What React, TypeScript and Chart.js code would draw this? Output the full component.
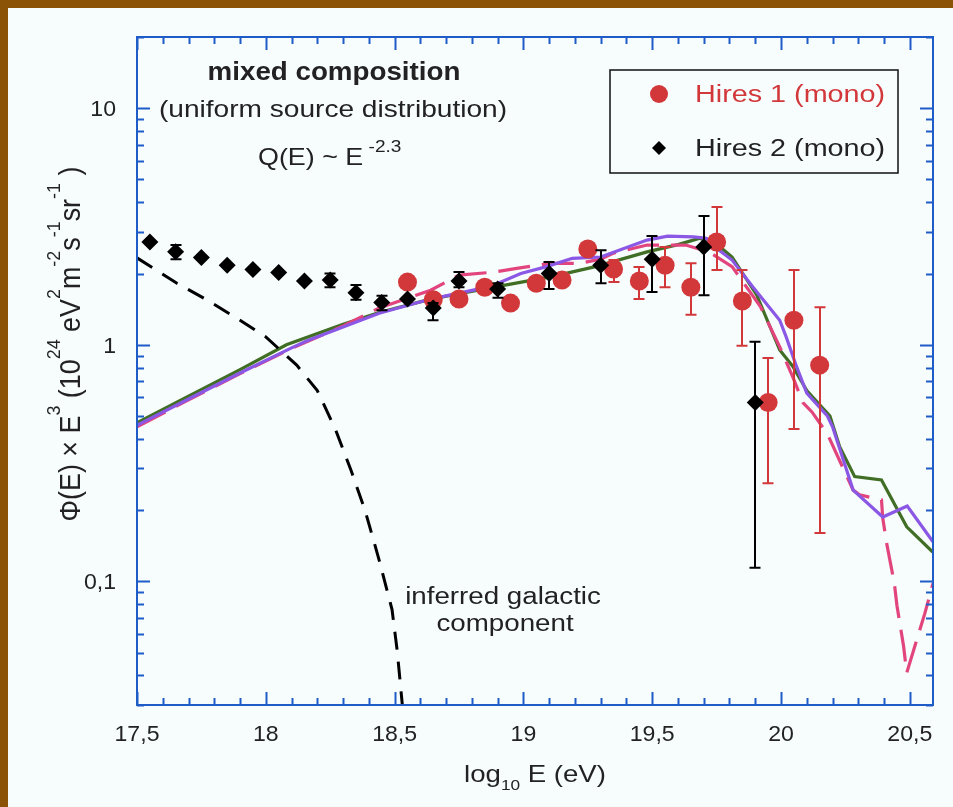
import React, { useEffect, useRef } from "react";
import { Chart, registerables } from "chart.js";

Chart.register(...registerables);

// ---------------- data ----------------
const xMajorTicks = [17.5, 18, 18.5, 19, 19.5, 20, 20.5];
const xTickLabels = ["17,5", "18", "18,5", "19", "19,5", "20", "20,5"];
const yMajorTicks = [0.1, 1, 10];
const yTickLabels = ["0,1", "1", "10"];

// Hires 1 (mono) - red circles
const hires1X = [18.55, 18.65, 18.75, 18.85, 18.95, 19.05, 19.15, 19.25, 19.35, 19.45, 19.55, 19.65, 19.75, 19.85, 19.95, 20.05, 20.15];
const hires1Y = [1.84, 1.55, 1.56, 1.75, 1.5, 1.82, 1.88, 2.54, 2.09, 1.86, 2.17, 1.75, 2.72, 1.53, 0.57, 1.27, 0.82];
const hires1Lo = [null, null, null, null, null, null, null, null, 1.84, 1.56, 1.75, 1.34, 2.07, 0.99, 0.26, 0.44, 0.16];
const hires1Hi = [null, null, null, null, null, null, null, null, 2.28, 2.13, 2.59, 2.21, 3.82, 2.07, 0.88, 2.07, 1.44];

// Hires 2 (mono) - black diamonds
const hires2X = [17.55, 17.65, 17.75, 17.85, 17.95, 18.05, 18.15, 18.25, 18.35, 18.45, 18.55, 18.65, 18.75, 18.9, 19.1, 19.3, 19.5, 19.7, 19.9];
const hires2Y = [2.72, 2.47, 2.34, 2.17, 2.08, 2.02, 1.86, 1.88, 1.66, 1.51, 1.56, 1.43, 1.86, 1.72, 2.0, 2.17, 2.3, 2.59, 0.57];
const hires2Lo = [null, 2.3, null, null, null, null, null, 1.75, 1.55, 1.4, null, 1.27, 1.75, 1.58, 1.72, 1.82, 1.67, 1.62, 0.114];
const hires2Hi = [null, 2.64, null, null, null, null, null, 2.0, 1.79, 1.61, null, 1.5, 2.03, 1.82, 2.24, 2.51, 2.88, 3.5, 1.03];

// inferred galactic component (black dashed)
const galacticX = [17.5, 17.655, 17.77, 17.9, 18.0, 18.12, 18.2, 18.27, 18.33, 18.385, 18.44, 18.49, 18.51, 18.53];
const galacticY = [2.33, 1.82, 1.55, 1.27, 1.08, 0.82, 0.64, 0.44, 0.296, 0.2, 0.123, 0.076, 0.051, 0.03];

// model curves
const greenX = [17.5, 17.7, 17.9, 18.08, 18.3, 18.44, 18.64, 18.87, 19.11, 19.28, 19.48, 19.6, 19.685, 19.762, 19.81, 19.906, 19.995, 20.046, 20.1, 20.19, 20.228, 20.286, 20.39, 20.488, 20.589];
const greenY = [0.468, 0.607, 0.785, 1.0, 1.22, 1.37, 1.56, 1.74, 1.94, 2.14, 2.47, 2.65, 2.82, 2.6, 2.35, 1.62, 0.95, 0.81, 0.64, 0.5, 0.37, 0.277, 0.268, 0.17, 0.133];

const purpleX = [17.5, 17.7, 17.9, 18.1, 18.16, 18.3, 18.44, 18.64, 18.87, 18.99, 19.09, 19.19, 19.3, 19.48, 19.56, 19.66, 19.71, 19.76, 19.81, 19.89, 19.995, 20.02, 20.06, 20.1, 20.18, 20.2, 20.28, 20.395, 20.49, 20.59];
const purpleY = [0.457, 0.59, 0.76, 0.97, 1.04, 1.19, 1.36, 1.56, 1.76, 2.0, 2.14, 2.32, 2.35, 2.77, 2.88, 2.86, 2.82, 2.51, 2.28, 1.76, 1.27, 1.08, 0.81, 0.625, 0.5, 0.45, 0.243, 0.187, 0.208, 0.147];

const pinkX = [17.5, 17.7, 17.9, 18.1, 18.3, 18.44, 18.64, 18.75, 18.89, 18.98, 19.11, 19.22, 19.3, 19.35, 19.48, 19.63, 19.72, 19.81, 19.92, 19.995, 20.046, 20.085, 20.12, 20.18, 20.28, 20.305, 20.39, 20.395, 20.41, 20.44, 20.45, 20.476, 20.488, 20.53, 20.558, 20.59];
const pinkY = [0.45, 0.585, 0.755, 0.965, 1.2, 1.43, 1.7, 1.97, 2.03, 2.11, 2.21, 2.21, 2.3, 2.44, 2.64, 2.64, 2.47, 2.14, 1.45, 0.98, 0.73, 0.57, 0.52, 0.42, 0.243, 0.232, 0.221, 0.185, 0.145, 0.098, 0.079, 0.053, 0.041, 0.058, 0.073, 0.098];

// ---------------- styles ----------------
const FONT = '"Liberation Sans", Arial, Helvetica, sans-serif';
const BLUE = "#1f5cc8";
const BROWN = "#8a5306";
const BG = "#f7fcfd";
const RED = "#d2373a";
const TEXT = "#222222";

const zip = (xs: number[], ys: number[]) => xs.map((x, i) => ({ x, y: ys[i] }));

type Run = { t: string; sup?: boolean; sub?: boolean };

function drawRuns(
  ctx: CanvasRenderingContext2D,
  runs: Run[],
  x: number,
  y: number,
  o: {
    size: number;
    small?: number;
    bold?: boolean;
    color?: string;
    align?: "left" | "center" | "right";
    sx?: number;
    sy?: number;
    rotate?: number;
    supShift?: number;
    subShift?: number;
  }
) {
  ctx.save();
  ctx.translate(x, y);
  if (o.rotate) ctx.rotate(o.rotate);
  ctx.scale(o.sx ?? 1, o.sy ?? 1);
  ctx.fillStyle = o.color ?? TEXT;
  ctx.textBaseline = "alphabetic";
  ctx.textAlign = "left";
  const small = o.small ?? Math.round(o.size * 0.66);
  const fontFor = (r: Run) => `${o.bold ? "bold " : ""}${r.sup || r.sub ? small : o.size}px ${FONT}`;
  let total = 0;
  const widths = runs.map((r) => {
    ctx.font = fontFor(r);
    const w = ctx.measureText(r.t).width;
    total += w;
    return w;
  });
  let cx = o.align === "center" ? -total / 2 : o.align === "right" ? -total : 0;
  runs.forEach((r, i) => {
    ctx.font = fontFor(r);
    const dy = r.sup ? -(o.supShift ?? o.size * 0.45) : r.sub ? o.subShift ?? o.size * 0.3 : 0;
    ctx.fillText(r.t, cx, dy);
    cx += widths[i];
  });
  ctx.restore();
}

const decorPlugin = {
  id: "decor",
  beforeDraw(chart: any) {
    const { ctx, width, height } = chart;
    ctx.save();
    ctx.fillStyle = BROWN;
    ctx.fillRect(0, 0, width, height);
    ctx.fillStyle = BG;
    ctx.fillRect(8, 8, width - 8, height - 8);
    ctx.restore();
  },
  afterDatasetDraw(chart: any, args: any) {
    const ds = chart.data.datasets[args.index];
    const eb = ds.errorBars;
    if (!eb) return;
    const { ctx } = chart;
    const xs = chart.scales.x;
    const ys = chart.scales.y;
    ctx.save();
    ctx.strokeStyle = eb.color;
    ctx.lineWidth = 2;
    ds.data.forEach((p: any, i: number) => {
      const lo = eb.lo[i];
      const hi = eb.hi[i];
      if (lo == null || hi == null) return;
      const px = Math.round(xs.getPixelForValue(p.x));
      const y1 = ys.getPixelForValue(lo);
      const y2 = ys.getPixelForValue(hi);
      const c = 5.5;
      ctx.beginPath();
      ctx.moveTo(px, y1);
      ctx.lineTo(px, y2);
      ctx.moveTo(px - c, y1);
      ctx.lineTo(px + c, y1);
      ctx.moveTo(px - c, y2);
      ctx.lineTo(px + c, y2);
      ctx.stroke();
    });
    ctx.restore();
  },
  afterDraw(chart: any) {
    const { ctx, chartArea } = chart;
    const { left, right, top, bottom } = chartArea;
    const xs = chart.scales.x;
    const ys = chart.scales.y;

    // frame
    ctx.save();
    ctx.strokeStyle = BLUE;
    ctx.lineWidth = 2;
    ctx.strokeRect(left, top, right - left, bottom - top);

    // x ticks (inward, top & bottom)
    ctx.beginPath();
    for (let k = 175; k <= 205; k++) {
      const v = k / 10;
      const px = Math.round(xs.getPixelForValue(v)) + 0.5;
      const len = k % 5 === 0 ? 13 : 7;
      ctx.moveTo(px, bottom);
      ctx.lineTo(px, bottom - len);
      ctx.moveTo(px, top);
      ctx.lineTo(px, top + len);
    }
    // y ticks (inward, left & right)
    for (let d = -2; d <= 1; d++) {
      for (let m = 1; m <= 9; m++) {
        const v = m * Math.pow(10, d);
        if (v < ys.min || v > ys.max) continue;
        const py = Math.round(ys.getPixelForValue(v)) + 0.5;
        const len = m === 1 ? 13 : 7;
        ctx.moveTo(left, py);
        ctx.lineTo(left + len, py);
        ctx.moveTo(right, py);
        ctx.lineTo(right - len, py);
      }
    }
    ctx.stroke();
    ctx.restore();

    // tick labels
    xMajorTicks.forEach((v, i) => {
      drawRuns(ctx, [{ t: xTickLabels[i] }], xs.getPixelForValue(v), 741, { size: 22, align: "center", sx: 1.05 });
    });
    yMajorTicks.forEach((v, i) => {
      drawRuns(ctx, [{ t: yTickLabels[i] }], 116, ys.getPixelForValue(v) + 8, { size: 22, align: "right", sx: 1.05 });
    });

    // axis titles
    drawRuns(ctx, [{ t: "log" }, { t: "10", sub: true }, { t: " E (eV)" }], 535, 782, {
      size: 24,
      small: 15,
      align: "center",
      sx: 1.15,
      subShift: 8,
    });
    drawRuns(
      ctx,
      [
        { t: "Φ(E) × E" },
        { t: "3", sup: true },
        { t: " (10" },
        { t: "24", sup: true },
        { t: " eV" },
        { t: "2", sup: true },
        { t: "m" },
        { t: "-2", sup: true },
        { t: "s" },
        { t: "-1", sup: true },
        { t: "sr" },
        { t: "-1", sup: true },
        { t: " )" },
      ],
      80,
      344,
      { size: 24, small: 16, align: "center", sx: 1.12, sy: 1.2, rotate: -Math.PI / 2, supShift: 17 }
    );

    // annotations
    drawRuns(ctx, [{ t: "mixed composition" }], 334, 80, { size: 25, bold: true, align: "center", sx: 1.11 });
    drawRuns(ctx, [{ t: "(uniform source distribution)" }], 333, 117, { size: 24, align: "center", sx: 1.17 });
    drawRuns(ctx, [{ t: "Q(E) ~ E" }, { t: " -2.3", sup: true }], 258, 165, { size: 24, small: 17, align: "left", sx: 1.12, supShift: 13 });
    drawRuns(ctx, [{ t: "inferred galactic" }], 503, 604, { size: 23.5, align: "center", sx: 1.18 });
    drawRuns(ctx, [{ t: "component" }], 505, 631, { size: 23.5, align: "center", sx: 1.18 });

    // legend
    ctx.save();
    ctx.strokeStyle = "#111";
    ctx.lineWidth = 1.5;
    ctx.strokeRect(610, 70, 288, 103);
    ctx.fillStyle = RED;
    ctx.beginPath();
    ctx.arc(659, 94, 9, 0, Math.PI * 2);
    ctx.fill();
    ctx.fillStyle = "#000";
    ctx.beginPath();
    ctx.moveTo(659 - 7, 148);
    ctx.lineTo(659, 148 - 7);
    ctx.lineTo(659 + 7, 148);
    ctx.lineTo(659, 148 + 7);
    ctx.closePath();
    ctx.fill();
    ctx.restore();
    drawRuns(ctx, [{ t: "Hires 1 (mono)" }], 695, 102, { size: 23, align: "left", sx: 1.25, color: RED });
    drawRuns(ctx, [{ t: "Hires 2 (mono)" }], 695, 156, { size: 23, align: "left", sx: 1.25, color: TEXT });
  },
};

export default function App() {
  const ref = useRef<HTMLCanvasElement>(null);
  useEffect(() => {
    document.body.style.margin = "0";
    const lineDs = (label: string, xs: number[], ys: number[], color: string, dash: number[] = [], width = 3.2) => ({
      label,
      data: zip(xs, ys),
      showLine: true,
      borderColor: color,
      backgroundColor: color,
      borderWidth: width,
      borderDash: dash,
      pointRadius: 0,
      tension: 0,
      fill: false,
    });
    const chart = new Chart(ref.current as HTMLCanvasElement, {
      type: "scatter",
      data: {
        datasets: [
          {
            label: "Hires 2 (mono)",
            data: zip(hires2X, hires2Y),
            pointStyle: "rectRot",
            pointRadius: 8.5,
            backgroundColor: "#000",
            borderColor: "#000",
            borderWidth: 0,
            errorBars: { lo: hires2Lo, hi: hires2Hi, color: "#000" },
          } as any,
          {
            label: "Hires 1 (mono)",
            data: zip(hires1X, hires1Y),
            pointStyle: "circle",
            pointRadius: 9.5,
            backgroundColor: RED,
            borderColor: RED,
            borderWidth: 0,
            errorBars: { lo: hires1Lo, hi: hires1Hi, color: RED },
          } as any,
          lineDs("inferred galactic component", galacticX, galacticY, "#000", [18, 12], 3),
          lineDs("model (purple)", purpleX, purpleY, "#8a58e4"),
          lineDs("model (pink)", pinkX, pinkY, "#e2457e", [32, 12]),
          lineDs("model (green)", greenX, greenY, "#3f6e24"),
        ],
      },
      options: {
        responsive: false,
        animation: false,
        devicePixelRatio: 1,
        events: [],
        layout: { padding: { left: 137, right: 20, top: 37, bottom: 102 } },
        plugins: { legend: { display: false }, tooltip: { enabled: false } },
        scales: {
          x: { type: "linear", display: false, min: 17.5, max: 20.59 },
          y: { type: "logarithmic", display: false, min: 0.03, max: 20 },
        },
      },
      plugins: [decorPlugin],
    } as any);
    return () => chart.destroy();
  }, []);
  return (
    <div style={{ width: 953, height: 807 }}>
      <canvas ref={ref} width={953} height={807} style={{ display: "block" }} />
    </div>
  );
}
